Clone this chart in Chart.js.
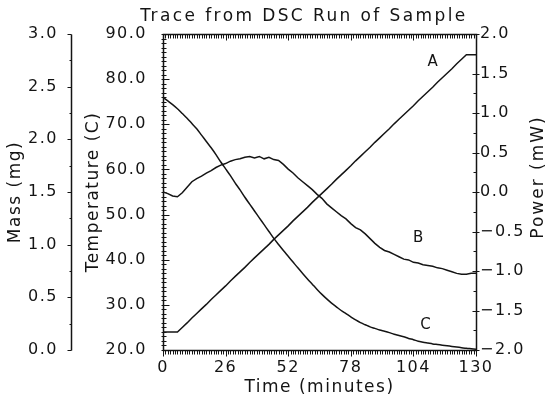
<!DOCTYPE html>
<html>
<head>
<meta charset="utf-8">
<title>Trace from DSC Run of Sample</title>
<script src="https://cdn.jsdelivr.net/npm/chart.js@4.4.1/dist/chart.umd.min.js"></script>
<style>
  html, body { margin: 0; padding: 0; background: #fff; }
  canvas { display: block; }
</style>
</head>
<body>
<canvas id="dsc" width="550" height="397"></canvas>
<script>
// values, one sample every 2 minutes
const timeMin = [0,2,4,6,8,10,12,14,16,18,20,22,24,26,28,30,32,34,36,38,40,42,44,46,48,50,52,54,56,58,60,62,64,66,68,70,72,74,76,78,80,82,84,86,88,90,92,94,96,98,100,102,104,106,108,110,112,114,116,118,120,122,124,126,128,130];

// A: temperature (C)
const tempC = [24.0,24.0,24.0,24.0,25.0,26.0,27.1,28.1,29.1,30.1,31.2,32.2,33.2,34.2,35.3,36.3,37.3,38.3,39.4,40.4,41.4,42.4,43.4,44.5,45.5,46.5,47.5,48.6,49.6,50.6,51.6,52.7,53.7,54.7,55.7,56.7,57.8,58.8,59.8,60.8,61.9,62.9,63.9,64.9,66.0,67.0,68.0,69.0,70.1,71.1,72.1,73.1,74.1,75.2,76.2,77.2,78.2,79.3,80.3,81.3,82.3,83.4,84.4,85.4,85.4,85.4];

// B: power (mW)
const powerMW = [0.00,-0.02,-0.05,-0.06,-0.01,0.06,0.13,0.17,0.20,0.24,0.27,0.31,0.34,0.36,0.39,0.41,0.42,0.44,0.45,0.43,0.45,0.42,0.44,0.41,0.40,0.35,0.29,0.24,0.18,0.13,0.08,0.03,-0.03,-0.08,-0.15,-0.20,-0.25,-0.30,-0.34,-0.40,-0.45,-0.48,-0.53,-0.59,-0.65,-0.70,-0.74,-0.76,-0.79,-0.82,-0.85,-0.86,-0.89,-0.90,-0.92,-0.93,-0.94,-0.96,-0.97,-0.99,-1.01,-1.03,-1.04,-1.04,-1.03,-1.03];

// C: mass (mg)
const massMg = [2.40,2.365,2.33,2.29,2.245,2.20,2.15,2.10,2.04,1.98,1.92,1.855,1.785,1.72,1.655,1.585,1.52,1.45,1.385,1.32,1.255,1.19,1.125,1.06,1.002,0.945,0.89,0.835,0.78,0.727,0.675,0.625,0.575,0.528,0.485,0.445,0.41,0.375,0.345,0.315,0.285,0.26,0.24,0.22,0.205,0.19,0.178,0.165,0.15,0.138,0.125,0.11,0.098,0.083,0.074,0.066,0.058,0.052,0.046,0.04,0.034,0.028,0.022,0.016,0.012,0.008];

// curve letters, placed in data units on each curve's own axis
const curveNames = ['A', 'B', 'C'];
const curveAxes = ['yTemp', 'yPower', 'yMass'];
const labelTime = [112, 106, 109];
const labelValue = [83.8, -0.58, 0.24];

const INK = '#141414';
const FONT = '"DejaVu Sans", sans-serif';

function pts(ys) {
  return timeMin.map((t, i) => ({ x: t, y: ys[i] }));
}

function fmt(v) {
  const s = Math.abs(v).toFixed(1);
  return v < -1e-9 ? '\u2212' + s : s;
}

function minorTicks(ctx, scale, step, majorEvery, fn) {
  const n = Math.round((scale.max - scale.min) / step);
  for (let i = 0; i <= n; i++) {
    const v = scale.min + i * step;
    fn(Math.round(scale.getPixelForValue(v)) + 0.5, i % majorEvery === 0);
  }
}

const decor = {
  id: 'decor',
  beforeDraw(chart) {
    chart.ctx.letterSpacing = '1.5px';
  },
  afterDraw(chart) {
    const { ctx, chartArea: a, scales } = chart;
    const x = scales.x, yT = scales.yTemp, yP = scales.yPower, yM = scales.yMass;
    const L = Math.round(a.left) + 0.5, R = Math.round(a.right) + 0.5;
    const T = Math.round(a.top) + 0.5, B = Math.round(a.bottom) + 0.5;
    const M = Math.round(yM.right) - 0.5;

    ctx.save();
    ctx.strokeStyle = INK;
    ctx.lineWidth = 1.5;
    ctx.strokeRect(L, T, R - L, B - T);
    ctx.beginPath();
    ctx.moveTo(M, T); ctx.lineTo(M, B);
    ctx.stroke();

    ctx.lineWidth = 1;
    ctx.beginPath();
    // time: dense ticks on bottom (outward) and top (inward)
    minorTicks(ctx, x, 1, 26, (px, major) => {
      const len = major ? 6 : 4;
      ctx.moveTo(px, B); ctx.lineTo(px, B + len);
      ctx.moveTo(px, T); ctx.lineTo(px, T + len);
    });
    // temperature: ticks across the left border every degree
    minorTicks(ctx, yT, 1, 10, (py, major) => {
      ctx.moveTo(L - 2, py); ctx.lineTo(L + (major ? 6 : 3), py);
    });
    // power: short inward ticks on the right border
    minorTicks(ctx, yP, 0.25, 2, (py, major) => {
      ctx.moveTo(R, py); ctx.lineTo(R - (major ? 4 : 3), py);
      if (major) { ctx.moveTo(R, py); ctx.lineTo(R + 3, py); }
    });
    // mass: ticks left of its own axis line
    minorTicks(ctx, yM, 0.25, 2, (py, major) => {
      ctx.moveTo(M, py); ctx.lineTo(M - (major ? 4 : 2), py);
    });
    ctx.stroke();

    ctx.fillStyle = INK;
    ctx.textAlign = 'center';
    ctx.textBaseline = 'middle';

    // chart title
    ctx.font = '17px ' + FONT;
    ctx.letterSpacing = '2.4px';
    ctx.fillText('Trace from DSC Run of Sample', a.left + 141, 17);

    // right axis title, reading bottom to top
    ctx.letterSpacing = '2px';
    ctx.save();
    ctx.translate(539, a.top + 143);
    ctx.rotate(-Math.PI / 2);
    ctx.fillText('Power (mW)', 0, 0);
    ctx.restore();

    // curve letters
    ctx.font = '15px ' + FONT;
    ctx.letterSpacing = '0px';
    curveNames.forEach((name, i) => {
      const ys = scales[curveAxes[i]];
      ctx.fillText(name, x.getPixelForValue(labelTime[i]), ys.getPixelForValue(labelValue[i]));
    });
    ctx.restore();
  }
};

Chart.defaults.font.family = FONT;
Chart.defaults.color = INK;

const lineStyle = {
  borderColor: INK,
  borderWidth: 1.5,
  pointRadius: 0,
  fill: false
};

new Chart(document.getElementById('dsc'), {
  type: 'line',
  data: {
    datasets: [
      { ...lineStyle, label: 'A', data: pts(tempC), yAxisID: 'yTemp', tension: 0 },
      { ...lineStyle, label: 'B', data: pts(powerMW), yAxisID: 'yPower', tension: 0 },
      { ...lineStyle, label: 'C', data: pts(massMg), yAxisID: 'yMass', tension: 0.3 }
    ]
  },
  options: {
    responsive: false,
    animation: false,
    devicePixelRatio: 1,
    layout: { padding: { top: 34, left: 0, right: 0, bottom: 0 } },
    plugins: {
      legend: { display: false },
      tooltip: { enabled: false }
    },
    scales: {
      x: {
        type: 'linear',
        position: 'bottom',
        min: 0,
        max: 130,
        grid: { display: false, drawTicks: false },
        border: { display: false },
        ticks: { stepSize: 26, padding: 8, font: { size: 16 }, color: INK, maxRotation: 0 },
        title: { display: true, text: 'Time (minutes)', font: { size: 17 }, color: INK, padding: { top: 0, bottom: -1 } },
        afterFit: s => { s.height = 47; }
      },
      yTemp: {
        type: 'linear',
        position: 'left',
        min: 20,
        max: 90,
        grid: { display: false, drawTicks: false },
        border: { display: false },
        ticks: { stepSize: 10, padding: 16, font: { size: 16 }, color: INK, callback: v => fmt(v) },
        title: { display: true, text: 'Temperature (C)', font: { size: 17 }, color: INK, padding: { top: 11, bottom: 0 } },
        afterFit: s => { s.width = 91; }
      },
      yMass: {
        type: 'linear',
        position: 'left',
        min: 0,
        max: 3,
        grid: { display: false, drawTicks: false },
        border: { display: false },
        ticks: { stepSize: 0.5, padding: 14, font: { size: 16 }, color: INK, callback: v => fmt(v) },
        title: { display: true, text: 'Mass (mg)', font: { size: 17 }, color: INK, padding: { top: 5, bottom: 0 } },
        afterFit: s => { s.width = 72; }
      },
      yPower: {
        type: 'linear',
        position: 'right',
        min: -2,
        max: 2,
        grid: { display: false, drawTicks: false },
        border: { display: false },
        ticks: { stepSize: 0.5, padding: 4, font: { size: 16 }, color: INK, callback: v => fmt(v) },
        title: { display: false },
        afterFit: s => { s.width = 74; }
      }
    }
  },
  plugins: [decor]
});
</script>
</body>
</html>
